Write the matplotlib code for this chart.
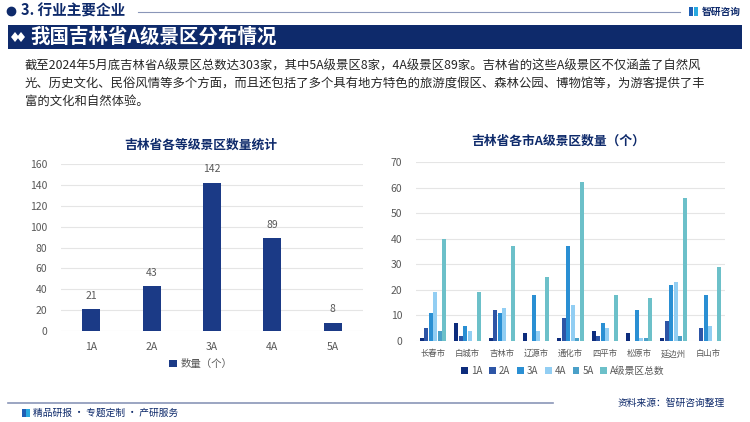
import numpy as np
import matplotlib
matplotlib.use("Agg")
import matplotlib.pyplot as plt
from matplotlib.patches import Rectangle, Polygon

plt.rcParams['font.family'] = ['Noto Sans CJK SC', 'DejaVu Sans']

# ---- data ----
grades = ['1A', '2A', '3A', '4A', '5A']
grade_counts = [21, 43, 142, 89, 8]

cities = ['长春市', '白城市', '吉林市', '辽源市', '通化市', '四平市', '松原市', '延边州', '白山市']
city_1a = [1, 7, 1, 3, 1, 4, 3, 1, 0]
city_2a = [5, 2, 12, 0, 9, 2, 0, 8, 5]
city_3a = [11, 6, 11, 18, 37, 7, 12, 22, 18]
city_4a = [19, 4, 13, 4, 14, 5, 1, 23, 6]
city_5a = [4, 0, 0, 0, 1, 0, 1, 2, 0]
city_total = [40, 19, 37, 25, 62, 18, 17, 56, 29]
series_names = ['1A', '2A', '3A', '4A', '5A', 'A级景区总数']
series_colors = ['#0D2C7C', '#2D55A6', '#2A8FD3', '#92CEF3', '#4AA0C8', '#6CC0C9']

W, H = 750, 422
NAVY = '#0E2A6B'
TXT = '#595959'


def fx(x):
    return x / W


def fy(y):
    return 1 - y / H


def frect(x, y_top, w, h, color):
    # rectangle given in pixel coords (top-left origin)
    fig.add_artist(Rectangle((fx(x), fy(y_top + h)), w / W, h / H,
                             transform=fig.transFigure, color=color, lw=0))


fig = plt.figure(figsize=(7.5, 4.22), dpi=100)

# ---- header ----
fig.add_artist(plt.Line2D([fx(11)], [fy(11)], marker='o', ms=6, color=NAVY, lw=0))
fig.text(fx(21), fy(11), '3. 行业主要企业', fontsize=10.5, fontweight='bold',
         color=NAVY, va='center', ha='left')
fig.add_artist(plt.Line2D([fx(138), fx(680)], [fy(12), fy(12)], color='#8A96B8', lw=0.8))
# logo
frect(689, 7, 4, 9, '#1F5FB5')
frect(694, 7, 4, 9, '#28A9E0')
fig.text(fx(702), fy(12), '智研咨询', fontsize=7, fontweight='bold', color=NAVY,
         va='center', ha='left')

# banner
frect(8, 25, 734, 24, NAVY)
for dx in (15, 21):
    fig.add_artist(Polygon([(fx(dx - 4), fy(37)), (fx(dx), fy(32)), (fx(dx + 4), fy(37)),
                            (fx(dx), fy(42))], closed=True, transform=fig.transFigure,
                           color='white', lw=0))
fig.text(fx(30), fy(37), '我国吉林省A级景区分布情况', fontsize=14, fontweight='bold',
         color='white', va='center', ha='left')

para = ['截至2024年5月底吉林省A级景区总数达303家，其中5A级景区8家，4A级景区89家。吉林省的这些A级景区不仅涵盖了自然风',
        '光、历史文化、民俗风情等多个方面，而且还包括了多个具有地方特色的旅游度假区、森林公园、博物馆等，为游客提供了丰',
        '富的文化和自然体验。']
for i, line in enumerate(para):
    fig.text(fx(25), fy(66 + 17.5 * i), line, fontsize=8.9, color='#262626',
             va='center', ha='left')

# ---- left chart ----
ax1 = fig.add_axes([fx(61), fy(331), fx(302), (331 - 164) / H])
x1 = np.arange(len(grades))
bars = ax1.bar(x1, grade_counts, width=0.3, color='#1B3A86', label='数量（个）', zorder=3)
for xi, v in zip(x1, grade_counts):
    ax1.text(xi, v + 8, str(v), ha='center', va='bottom', fontsize=7.5, color=TXT)
ax1.set_xlim(-0.5, 4.5)
ax1.set_ylim(0, 160)
ax1.set_yticks(np.arange(0, 161, 20))
ax1.set_xticks(x1)
ax1.set_xticklabels(grades)
ax1.grid(axis='y', color='#E5E5E5', lw=0.8, zorder=0)
for s in ax1.spines.values():
    s.set_visible(False)
ax1.tick_params(length=0, labelsize=7.5, colors=TXT)
ax1.tick_params(axis='x', pad=8)
ax1.tick_params(axis='y', pad=10)
fig.text(fx(201), fy(145), '吉林省各等级景区数量统计', fontsize=9.2, fontweight='bold',
         color=NAVY, ha='center', va='center')
fig.legend(handles=[bars], labels=['数量（个）'], loc='center', bbox_to_anchor=(fx(201), fy(364)),
           frameon=False, fontsize=7.5, handlelength=0.7, handleheight=0.7,
           labelcolor=TXT, handletextpad=0.4)

# ---- right chart ----
ax2 = fig.add_axes([fx(416), fy(341), fx(309), (341 - 162) / H])
x2 = np.arange(len(cities))
series = [city_1a, city_2a, city_3a, city_4a, city_5a, city_total]
bw = 0.13
handles = []
for k, (vals, c) in enumerate(zip(series, series_colors)):
    h = ax2.bar(x2 + (k - 2.5) * bw, vals, width=bw * 0.9, color=c, zorder=3,
                label=series_names[k])
    handles.append(h)
ax2.set_xlim(-0.5, len(cities) - 0.5)
ax2.set_ylim(0, 70)
ax2.set_yticks(np.arange(0, 71, 10))
ax2.set_xticks(x2)
ax2.set_xticklabels(cities)
ax2.grid(axis='y', color='#E5E5E5', lw=0.8, zorder=0)
for s in ax2.spines.values():
    s.set_visible(False)
ax2.tick_params(length=0, colors=TXT)
ax2.tick_params(axis='x', labelsize=6, pad=6)
ax2.tick_params(axis='y', labelsize=7.5, pad=10)
fig.text(fx(558), fy(141), '吉林省各市A级景区数量（个）', fontsize=9.2, fontweight='bold',
         color=NAVY, ha='center', va='center')
fig.legend(handles=handles, labels=series_names, loc='center', bbox_to_anchor=(fx(563), fy(371)),
           ncol=6, frameon=False, fontsize=7, handlelength=0.7, handleheight=0.7,
           labelcolor=TXT, handletextpad=0.3, columnspacing=0.7)

# ---- footer ----
fig.add_artist(plt.Line2D([fx(8), fx(553)], [fy(403), fy(403)], color='#8A96B8', lw=1.2))
fig.text(fx(725), fy(403), '资料来源：智研咨询整理', fontsize=7, color=NAVY,
         ha='right', va='center')
frect(22, 409, 3.5, 8, '#1F5FB5')
frect(26, 409, 3.5, 8, '#28A9E0')
fig.text(fx(33), fy(413), '精品研报 · 专题定制 · 产研服务', fontsize=7, color=NAVY,
         ha='left', va='center')

fig.savefig('out.png', dpi=100)
